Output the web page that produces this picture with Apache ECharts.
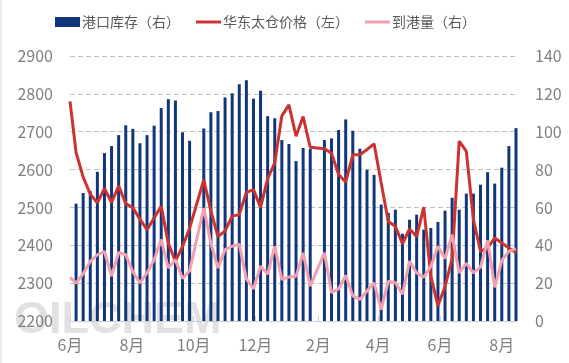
<!DOCTYPE html>
<html>
<head>
<meta charset="utf-8">
<script src="https://cdn.jsdelivr.net/npm/echarts@6/dist/echarts.min.js"></script>
<style>
html,body{margin:0;padding:0;background:#fff;}
#c{width:569px;height:363px;}
</style>
</head>
<body>
<div id="c"></div>
<script>
// Weekly dates for inventory / arrivals / price
const weekDates = [
  '2024-06-07','2024-06-14','2024-06-21','2024-06-28','2024-07-05','2024-07-12','2024-07-19','2024-07-26',
  '2024-08-02','2024-08-09','2024-08-16','2024-08-23','2024-08-30','2024-09-06','2024-09-13','2024-09-20',
  '2024-09-27','2024-10-04','2024-10-11','2024-10-18','2024-10-25','2024-11-01','2024-11-08','2024-11-15',
  '2024-11-22','2024-11-29','2024-12-06','2024-12-13','2024-12-20','2024-12-27','2025-01-03','2025-01-10',
  '2025-01-17','2025-01-24','2025-01-31','2025-02-07','2025-02-14','2025-02-21','2025-02-28','2025-03-07',
  '2025-03-14','2025-03-21','2025-03-28','2025-04-04','2025-04-11','2025-04-18','2025-04-25','2025-05-02',
  '2025-05-09','2025-05-16','2025-05-23','2025-05-30','2025-06-06','2025-06-13','2025-06-20','2025-06-27',
  '2025-07-04','2025-07-11','2025-07-18','2025-07-25','2025-08-01','2025-08-08','2025-08-15'
];
// 港口库存（右）
const portInventory = [
  62, 67.6, 68.6, 78.8, 88.7, 92.4, 98.2, 103.4,
  101.5, 93.9, 98.2, 103.2, 112.5, 117.2, 116.5, 99.7,
  95.2, null, 101.7, 110.3, 110.9, 118.1, 120.3, 125.1,
  127.2, 117.5, 121.7, 108.2, 107.1, 95.6, 93.5, 84.5,
  91.4, 90.9, null, 95.6, 96.5, 100.9, 106.5, 100.5,
  91, 79.9, 77.2, 61.5, 57.1, 58.8, 46.1, 53.5,
  56.2, 48.3, 49.1, 52.3, 58.3, 65.1, 58.8, 67.3,
  67.3, 72, 78.6, 72.6, 81, 92.4, 101.9
];
// 华东太仓价格（左）
const priceStartDate = '2024-06-01';
const priceStart = 2780;
const taicangPrice = [
  2645, 2580, 2535, 2512, 2550, 2513, 2557, 2510,
  2499, 2469, 2441, 2472, 2503, 2405, 2358, 2397,
  2445, null, 2573, 2490, 2423, 2438, 2477, 2481,
  2540, 2547, 2500, 2576, 2618, 2742, 2771, 2688,
  2740, 2659, null, 2655, 2643, 2587, 2567, 2639,
  2639, 2653, 2668, 2565, 2463, 2450, 2404, 2443,
  2423, 2501, 2318, 2240, 2291, 2365, 2675, 2648,
  2468, 2384, 2393, 2419, 2406, 2393, 2380
];
// 到港量（右）
const arrivalsStart = 23;
const arrivals = [
  20, 25, 31.5, 35, 36.7, 23.7, 36.2, 35,
  26, 20.1, 25.4, 32.4, 43, 28, 32.4, 22.5,
  26.5, null, 59.7, 41, 28, 37.7, 39.5, 40.6,
  22.3, 17, 28.9, 24.8, 39.5, 22, 23.3, 23.6,
  36, 18.4, null, 36, 14.9, 17, 24, 13.2,
  11.4, 15.8, 20.2, 6, 21, 20.3, 14.2, 31.6,
  25.4, 23.2, 28.8, 39.5, 33, 45.6, 25.4, 30.5,
  25.4, 28.5, 42.6, 17.8, 32, 36.8, 38.2
];
const xTickDates = ['2024-06-01','2024-08-01','2024-10-01','2024-12-01','2025-02-01','2025-04-01','2025-06-01','2025-08-01'];
const xTickLabels = ['6月','8月','10月','12月','2月','4月','6月','8月'];
const xMinDate = '2024-06-01';
const xMaxDate = '2025-08-16';
const leftTicks = [2200, 2300, 2400, 2500, 2600, 2700, 2800, 2900];
const rightTicks = [0, 20, 40, 60, 80, 100, 120, 140];

function ts(s){ const p = s.split('-').map(Number); return Date.UTC(p[0], p[1]-1, p[2]); }

const tickTs = xTickDates.map(ts);
const barData = weekDates.map((d,i)=>[ts(d), portInventory[i]]);
const priceData = [[ts(priceStartDate), priceStart]].concat(weekDates.map((d,i)=>[ts(d), taicangPrice[i]]));
const arrData = [[ts(priceStartDate), arrivalsStart]].concat(weekDates.map((d,i)=>[ts(d), arrivals[i]]));

const FONT = '"Noto Sans CJK SC", "Noto Sans", sans-serif';
const LINE_ICON = 'path://M0,0L25,0L25,3L0,3Z';
const chart = echarts.init(document.getElementById('c'), null, {renderer:'canvas'});
chart.setOption({
  animation:false,
  backgroundColor:'#ffffff',
  textStyle:{fontFamily:FONT},
  legend:{
    left:55, top:15, padding:0,
    itemWidth:25, itemHeight:10, itemGap:16,
    symbolKeepAspect:true,
    textStyle:{color:'#595959', fontSize:14, fontFamily:FONT, padding:[0,0,0,-3]},
    data:[
      {name:'港口库存（右）', icon:'rect'},
      {name:'华东太仓价格（左）', icon:LINE_ICON},
      {name:'到港量（右）', icon:LINE_ICON}
    ]
  },
  graphic:[{
    type:'rect', left:0, top:0, z:-20, silent:true,
    shape:{width:2, height:363}, style:{fill:'#ececec'}
  },{
    type:'text', left:14, top:298, z:-10, silent:true,
    style:{text:'OILCHEM', fontSize:45, fontWeight:'bold', fontFamily:'"Liberation Sans", sans-serif', fill:'rgba(170,170,170,0.35)'}
  }],
  grid:{left:70, right:52, top:56, bottom:42},
  xAxis:{
    type:'value',
    min:ts(xMinDate), max:ts(xMaxDate),
    axisLine:{show:true, lineStyle:{color:'#c9ced6', width:1}},
    axisTick:{show:true, inside:true, length:5, customValues:tickTs, lineStyle:{color:'#c9ced6'}},
    splitLine:{show:false},
    axisLabel:{
      customValues:tickTs,
      color:'#7f7f7f', fontSize:16, margin:16, fontFamily:FONT,
      formatter:function(v){ const k = tickTs.indexOf(v); return k>=0 ? xTickLabels[k] : ''; }
    }
  },
  yAxis:[{
    type:'value', min:leftTicks[0], max:leftTicks[leftTicks.length-1], interval:100,
    axisLine:{show:false}, axisTick:{show:false},
    axisLabel:{color:'#7f7f7f', fontSize:16, margin:17, fontFamily:FONT, formatter:function(v){return String(v);}},
    splitLine:{show:true, lineStyle:{color:'#c3c3c3', type:[5,3], width:1}}
  },{
    type:'value', min:rightTicks[0], max:rightTicks[rightTicks.length-1], interval:20,
    axisLine:{show:false}, axisTick:{show:false},
    axisLabel:{color:'#7f7f7f', fontSize:16, margin:18, fontFamily:FONT, formatter:function(v){return String(v);}},
    splitLine:{show:false}
  }],
  series:[{
    name:'港口库存（右）', type:'bar', yAxisIndex:1, barWidth:3,
    itemStyle:{color:'#11367a'},
    data:barData
  },{
    name:'华东太仓价格（左）', type:'line', yAxisIndex:0, symbol:'none', connectNulls:true,
    lineStyle:{color:'#cc3330', width:3}, itemStyle:{color:'#cc3330'},
    data:priceData
  },{
    name:'到港量（右）', type:'line', yAxisIndex:1, symbol:'none', connectNulls:true,
    lineStyle:{color:'#f2a0b0', width:3}, itemStyle:{color:'#f2a0b0'},
    data:arrData
  }]
});
</script>
</body>
</html>
